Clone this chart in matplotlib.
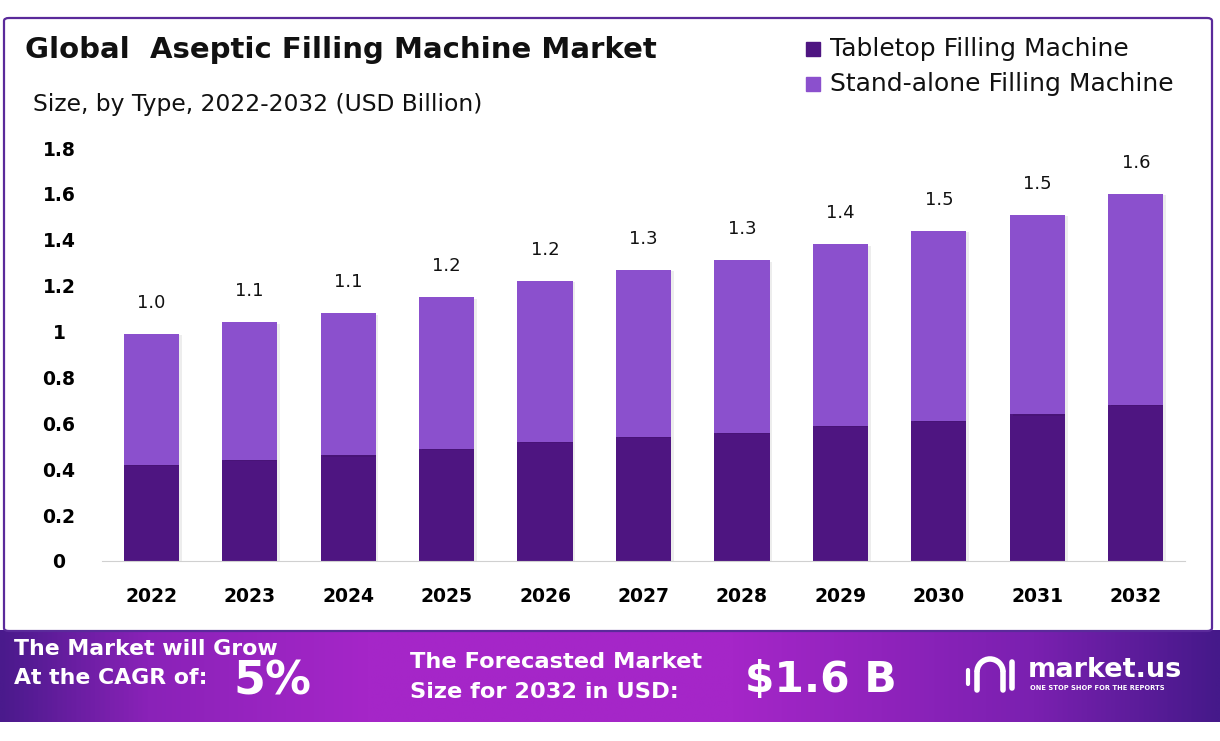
import numpy as np
import matplotlib.pyplot as plt
from matplotlib.patches import FancyBboxPatch, Rectangle, Arc
from matplotlib.colors import LinearSegmentedColormap
import matplotlib.patheffects as pe

plt.rcParams['font.family'] = ['DejaVu Sans']

years = ["2022", "2023", "2024", "2025", "2026", "2027", "2028", "2029", "2030", "2031", "2032"]
tabletop = [0.42, 0.44, 0.46, 0.49, 0.52, 0.54, 0.56, 0.59, 0.61, 0.64, 0.68]
standalone = [0.57, 0.60, 0.62, 0.66, 0.70, 0.73, 0.75, 0.79, 0.83, 0.87, 0.92]
totals = ["1.0", "1.1", "1.1", "1.2", "1.2", "1.3", "1.3", "1.4", "1.5", "1.5", "1.6"]
yticks = [0, 0.2, 0.4, 0.6, 0.8, 1, 1.2, 1.4, 1.6, 1.8]
ytick_labels = ["0", "0.2", "0.4", "0.6", "0.8", "1", "1.2", "1.4", "1.6", "1.8"]

dark = "#4e1581"
light = "#8b50cd"

W, H = 1220, 741
fig = plt.figure(figsize=(W / 100, H / 100), dpi=100)

# outer border, stops where the banner starts
border = FancyBboxPatch((4 / W, 1 - 631 / H), 1208 / W, 613 / H,
                        boxstyle="round,pad=0,rounding_size=0.004",
                        transform=fig.transFigure, fill=False,
                        edgecolor="#5a2a9a", linewidth=1.6)
fig.patches.append(border)

ax = fig.add_axes([102 / W, 1 - 561 / H, 1083 / W, 413 / H])
x = np.arange(len(years))
shadow = [pe.SimplePatchShadow(offset=(2, -1), shadow_rgbFace="#000000", alpha=0.07), pe.Normal()]
b1 = ax.bar(x, tabletop, width=0.56, color=dark, zorder=3, label="Tabletop Filling Machine")
b2 = ax.bar(x, standalone, width=0.56, bottom=tabletop, color=light, zorder=3,
            label="Stand-alone Filling Machine")
for bars in (b1, b2):
    for r in bars:
        r.set_path_effects(shadow)

for i, lab in enumerate(totals):
    ax.text(x[i], tabletop[i] + standalone[i] + 0.135, lab, ha="center", va="center",
            fontsize=13, color="#111111")

ax.set_xlim(-0.5, len(years) - 0.5)
ax.set_ylim(0, 1.8)
ax.set_xticks(x)
ax.set_xticklabels(years, fontsize=13.5, fontweight="bold")
ax.set_yticks(yticks)
ax.set_yticklabels(ytick_labels, fontsize=13.5, fontweight="bold")
ax.tick_params(length=0)
ax.tick_params(axis="x", pad=19)
ax.tick_params(axis="y", pad=31)
for s in ["top", "right", "left"]:
    ax.spines[s].set_visible(False)
ax.spines["bottom"].set_color("#d0d0d0")
ax.spines["bottom"].set_zorder(4)
for lbl in ax.get_yticklabels():
    lbl.set_horizontalalignment("center")

fig.text(25 / W, 1 - 50 / H, "Global  Aseptic Filling Machine Market", fontsize=21,
         fontweight="bold", va="center", ha="left", color="#111111")
fig.text(33 / W, 1 - 104 / H, "Size, by Type, 2022-2032 (USD Billion)", fontsize=16.8,
         va="center", ha="left", color="#111111")

# legend
for j, (lab, col) in enumerate([("Tabletop Filling Machine", dark),
                                 ("Stand-alone Filling Machine", light)]):
    yc = 1 - (49 + 35 * j) / H
    fig.patches.append(Rectangle((806 / W, yc - 7 / H), 14 / W, 14 / H,
                                 transform=fig.transFigure, color=col))
    fig.text(830 / W, yc, lab, fontsize=18, va="center", ha="left", color="#111111")

# bottom banner
bax = fig.add_axes([0, 1 - 722 / H, 1, 92 / H])
cmap = LinearSegmentedColormap.from_list("band", [
    (0.0, "#4a1a8c"), (0.12, "#8a22b8"), (0.3, "#a526c8"), (0.6, "#a526c8"),
    (0.85, "#7a20b0"), (1.0, "#45198a")])
grad = np.linspace(0, 1, 512).reshape(1, -1)
bax.imshow(grad, aspect="auto", cmap=cmap, extent=(0, W, 722, 630))
bax.set_xlim(0, W)
bax.set_ylim(722, 630)
bax.axis("off")

def btxt(px, py, s, size, **kw):
    bax.text(px, py, s, fontsize=size, color="white",
             fontweight="bold", va="center", ha="left", **kw)

btxt(14, 649, "The Market will Grow", 15.8)
btxt(14, 678, "At the CAGR of:", 15.8)
btxt(233, 682, "5%", 33)
btxt(410, 662, "The Forecasted Market", 16.2)
btxt(410, 692, "Size for 2032 in USD:", 16.2)
btxt(745, 680, "$1.6 B", 30.5)
btxt(1028, 670, "market.us", 19.5)
btxt(1030, 688, "ONE STOP SHOP FOR THE REPORTS", 4.9)

# logo mark
bax.add_patch(Arc((990, 672), 26, 26, theta1=180, theta2=360, color="white", lw=4))
bax.plot([977, 977], [672, 690], color="white", lw=4, solid_capstyle="round")
bax.plot([1003, 1003], [672, 690], color="white", lw=4, solid_capstyle="round")
bax.plot([1012, 1012], [662, 688], color="white", lw=4, solid_capstyle="round")
bax.plot([968, 968], [670, 684], color="white", lw=3, solid_capstyle="round")

fig.savefig("out.png", dpi=100)
